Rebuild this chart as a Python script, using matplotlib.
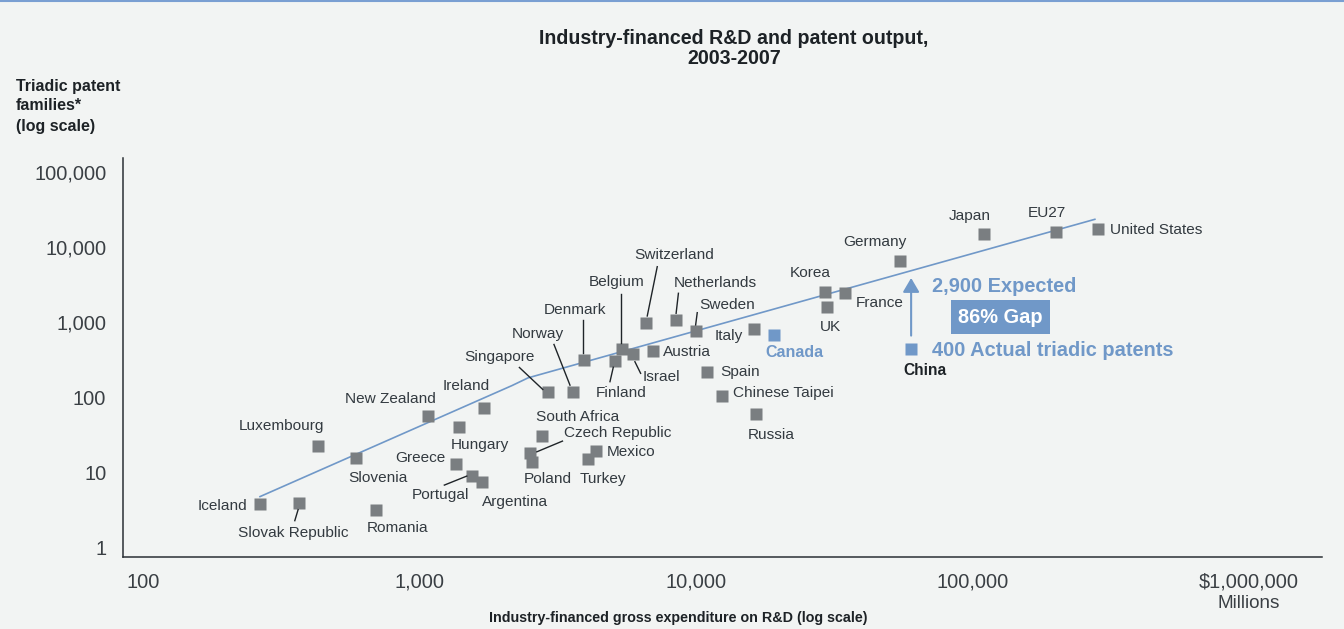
import numpy as np
import matplotlib
matplotlib.use('Agg')
import matplotlib.pyplot as plt
from matplotlib.lines import Line2D

plt.rcParams['font.family'] = ['Liberation Sans', 'DejaVu Sans']

# ---------------- data ----------------
countries = ['Iceland', 'Slovak Republic', 'Luxembourg', 'Slovenia', 'Romania',
             'New Zealand', 'Ireland', 'Hungary', 'Greece', 'Portugal', 'Argentina',
             'South Africa', 'Czech Republic', 'Poland', 'Mexico', 'Turkey',
             'Singapore', 'Norway', 'Denmark', 'Finland', 'Belgium', 'Israel',
             'Austria', 'Switzerland', 'Netherlands', 'Sweden', 'Italy', 'Canada',
             'Spain', 'Chinese Taipei', 'Russia', 'Korea', 'UK', 'France',
             'Germany', 'Japan', 'EU27', 'United States', 'China']
rd_spend = [265, 366, 430, 589, 696,
            1074, 1706, 1390, 1352, 1549, 1683,
            2774, 2513, 2546, 4335, 4055,
            2918, 3581, 3926, 5093, 5399, 5899,
            6970, 6575, 8474, 9970, 16220, 19140,
            10990, 12390, 16440, 29300, 29780, 34600,
            54700, 110200, 200000, 283800, 59980]
patents = [3.7, 3.9, 22, 15.4, 3.1,
           56, 72, 40, 12.9, 8.9, 7.4,
           30.5, 17.7, 13.7, 19.2, 14.9,
           116, 116, 314, 305, 432, 374,
           415, 979, 1074, 759, 814, 664,
           213, 103, 59, 2512, 1600, 2460,
           6560, 15040, 16000, 17380, 430]
highlight = ['Canada', 'China']

fit_x = [265, 2160, 2470, 2920, 277000]
fit_y = [4.7, 142, 180, 214, 23400]

china_arrow_top = 3860
expected_label = '2,900 Expected'
actual_label = '400 Actual triadic patents'
gap_label = '86% Gap'

x_ticks = [100, 1000, 10000, 100000, 1000000]
x_ticklabels = ['100', '1,000', '10,000', '100,000', '$1,000,000']
y_ticks = [1, 10, 100, 1000, 10000, 100000]
y_ticklabels = ['1', '10', '100', '1,000', '10,000', '100,000']

# ---------------- layout (pixels offsets; dy positive = up) ----------------
label_pos = {
    'Iceland': (-13, -2, 'right'), 'Slovak Republic': (-6, -30, 'center'),
    'Luxembourg': (-37, 20, 'center'), 'Slovenia': (22, -20, 'center'),
    'Romania': (22, -18, 'center'), 'New Zealand': (-38, 17, 'center'),
    'Ireland': (-17, 22, 'center'), 'Hungary': (21, -18, 'center'),
    'Greece': (-10.7, 6, 'right'), 'Portugal': (-32, -19, 'center'),
    'Argentina': (33.5, -20.6, 'center'), 'South Africa': (36, 19, 'center'),
    'Czech Republic': (34.3, 20.6, 'left'), 'Poland': (16.3, -17.6, 'center'),
    'Mexico': (11.6, -1, 'left'), 'Turkey': (15, -20, 'center'),
    'Singapore': (-48.7, 35.3, 'center'), 'Norway': (-34.5, 57.7, 'center'),
    'Denmark': (-9, 49.7, 'center'), 'Finland': (5.8, -32.6, 'center'),
    'Belgium': (-5.8, 67, 'center'), 'Israel': (29, -22.7, 'center'),
    'Austria': (10.6, -1, 'left'), 'Switzerland': (28.3, 67.7, 'center'),
    'Netherlands': (39.3, 36.4, 'center'), 'Sweden': (31, 26, 'center'),
    'Italy': (-11.3, -7.3, 'right'), 'Canada': (20, -17, 'center'),
    'Spain': (13.4, 0.6, 'left'), 'Chinese Taipei': (11.6, 2.7, 'left'),
    'Russia': (16, -20.7, 'center'), 'Korea': (-15.3, 18.7, 'center'),
    'UK': (3.2, -20, 'center'), 'France': (10.3, -10, 'left'),
    'Germany': (-24.7, 19, 'center'), 'Japan': (-14.8, 18, 'center'),
    'EU27': (-8.5, 18.4, 'center'), 'United States': (12.3, -1, 'left'),
    'China': (-7.7, -21.4, 'left'),
}
leaders = {
    'Slovak Republic': ((-4, -18), (-0.7, -7)),
    'Portugal': ((-27.7, -9.3), (-5.3, -0.3)),
    'Czech Republic': ((6.7, 1.6), (32.3, 12.3)),
    'Singapore': ((-28.7, 24.7), (-5.3, 2.7)),
    'Norway': ((-18.7, 47.7), (-2.7, 7)),
    'Denmark': ((-0.4, 39.7), (-0.4, 6.4)),
    'Belgium': ((-0.7, 55.3), (-0.7, 6)),
    'Switzerland': ((11.6, 56), (1.6, 6.7)),
    'Netherlands': ((2.3, 26.4), (0, 6.4)),
    'Sweden': ((1.6, 18.3), (0, 6)),
    'Finland': ((-5, -21), (-1.7, -6.6)),
    'Israel': ((8, -19.3), (2.3, -7.7)),
}

BG = '#f2f4f3'
GREY = '#7a7e81'
BLUE = '#7098c8'
TXT = '#333a40'

W, H = 1344, 629
fig = plt.figure(figsize=(W / 100, H / 100), dpi=100, facecolor=BG)
L, R, B, T = 123, 1321.7, 557.3, 158
ax = fig.add_axes([L / W, 1 - B / H, (R - L) / W, (B - T) / H], facecolor=BG)
ax.set_xscale('log')
ax.set_yscale('log')
ax.set_xlim(10 ** 1.9277, 10 ** 6.2629)
ax.set_ylim(10 ** -0.1373, 10 ** 5.1867)
for s in ['top', 'right']:
    ax.spines[s].set_visible(False)
for s in ['left', 'bottom']:
    ax.spines[s].set_color('#2b3035')
    ax.spines[s].set_linewidth(1.1)
ax.set_xticks(x_ticks)
ax.set_xticklabels(x_ticklabels)
ax.set_yticks(y_ticks)
ax.set_yticklabels(y_ticklabels)
ax.minorticks_off()
ax.tick_params(axis='both', length=0, labelsize=14.4, labelcolor='#3a3f44')
ax.tick_params(axis='x', pad=11)
ax.tick_params(axis='y', pad=12)

# fit line
ax.plot(fit_x, fit_y, color=BLUE, lw=1.2, zorder=2, solid_joinstyle='round')

# markers
cols = [BLUE if c in highlight else GREY for c in countries]
for xv, yv, c in zip(rd_spend, patents, cols):
    ax.plot([xv], [yv], 's', ms=9, color=c, mec='none', zorder=3)

fig.canvas.draw()


def offset_point(x, y, dx, dy):
    d = ax.transData.transform((x, y))
    return ax.transData.inverted().transform((d[0] + dx, d[1] + dy))


for name, xv, yv in zip(countries, rd_spend, patents):
    dx, dy, ha = label_pos[name]
    if name == 'Canada':
        kw = dict(color=BLUE, fontweight='bold', fontsize=11.5)
    elif name == 'China':
        kw = dict(color='#1d2226', fontweight='bold', fontsize=11.2)
    else:
        kw = dict(color=TXT, fontsize=11.1)
    ax.annotate(name, xy=(xv, yv), xytext=(dx, dy), textcoords='offset pixels',
                ha=ha, va='center', zorder=4, **kw)
    if name in leaders:
        (ax1, ay1), (ax2, ay2) = leaders[name]
        p1 = offset_point(xv, yv, ax1, ay1)
        p2 = offset_point(xv, yv, ax2, ay2)
        ax.plot([p1[0], p2[0]], [p1[1], p2[1]], color='#1f2428', lw=1.0, zorder=4)

# China annotation
ci = countries.index('China')
cx, cy = rd_spend[ci], patents[ci]
ax.annotate('', xy=(cx, china_arrow_top), xytext=(cx, cy),
            arrowprops=dict(arrowstyle='-|>,head_length=0.85,head_width=0.5',
                            color=BLUE, lw=1.5, shrinkA=10, shrinkB=0), zorder=4)
ax.annotate(expected_label, xy=(cx, cy), xytext=(21.3, 62.6), textcoords='offset pixels',
            ha='left', va='center', color=BLUE, fontweight='bold', fontsize=14.4)
ax.annotate(actual_label, xy=(cx, cy), xytext=(21.3, -1.4), textcoords='offset pixels',
            ha='left', va='center', color=BLUE, fontweight='bold', fontsize=14.4)
ax.annotate(gap_label, xy=(cx, cy), xytext=(89.3, 32.3), textcoords='offset pixels',
            ha='center', va='center', color='white', fontweight='bold', fontsize=14.4,
            bbox=dict(boxstyle='square,pad=0.38', fc=BLUE, ec='none'))

# titles and axis labels
fig.text(734 / W, 1 - 39 / H, 'Industry-financed R&D and patent output,', ha='center',
         va='center', fontsize=14.1, fontweight='bold', color='#1d2226')
fig.text(734 / W, 1 - 59 / H, '2003-2007', ha='center', va='center', fontsize=14.1,
         fontweight='bold', color='#1d2226')
for i, line in enumerate(['Triadic patent', 'families*', '(log scale)']):
    fig.text(15.7 / W, 1 - (86 + 20 * i) / H, line, ha='left', va='center',
             fontsize=11.5, fontweight='bold', color='#1d2226')
fig.text(678 / W, 1 - 618 / H, 'Industry-financed gross expenditure on R&D (log scale)',
         ha='center', va='center', fontsize=10.3, fontweight='bold', color='#1d2226')
fig.text(1249 / W, 1 - 604 / H, 'Millions', ha='center', va='center', fontsize=13.6,
         color='#3a3f44')

# top rule
fig.add_artist(Line2D([0, 1], [1 - 0.8 / H, 1 - 0.8 / H], transform=fig.transFigure,
                      color='#7a9fd2', lw=1.5))

fig.savefig('out.png', dpi=100, facecolor=BG)
